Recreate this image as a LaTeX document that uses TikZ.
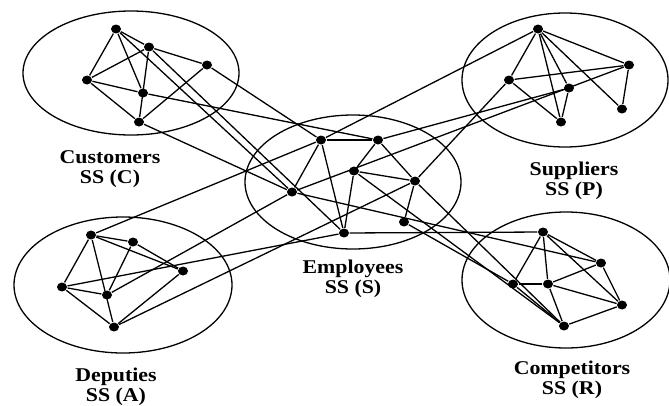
\documentclass[tikz,border=0pt]{standalone}
\usepackage{fontspec}
\usetikzlibrary{shapes.geometric}
\newfontfamily\lblfont[FakeStretch=1.12]{Liberation Serif}
\begin{document}
\begin{tikzpicture}[x=1pt,y=-1pt,line width=1.3pt,
    dot/.style={ellipse,fill=black,inner sep=0pt,minimum width=10pt,minimum height=9pt},
    lbl/.style={align=center,inner sep=0pt,anchor=north,font={\lblfont\bfseries\fontsize{19.5}{20}\selectfont}}]
\useasboundingbox (0,0) rectangle (669,405);

\draw (131,73) ellipse (108pt and 62pt);
\draw (353,182) ellipse (108pt and 67pt);
\draw (565,80) ellipse (103pt and 67pt);
\draw (123,285) ellipse (109pt and 68pt);
\draw (566,280) ellipse (104pt and 68pt);

\foreach \n/\x/\y in {c1/116/29,c2/149/47,c3/207/65,c4/87/80,c5/143/93,c6/139/122,
    e1/321/140,e2/378/140,e3/354/171,e4/415/181,e5/292/192,e6/404/222,e7/344/233,
    p1/538/29,p2/629/65,p3/509/80,p4/569/88,p5/622/109,p6/561/122,
    a1/91/235,a2/133/242,a3/183/271,a4/62/287,a5/107/295,a6/114/327,
    r1/543/232,r2/601/263,r3/513/284,r4/548/284,r5/622/305,r6/564/326}
{
    \node[dot] (\n) at (\x,\y) {};
}

\foreach \a/\b in {c1/c2,c2/c3,c1/c4,c1/c5,c2/c4,c2/c6,c4/c5,c4/c6,c3/c6,
    e1/e2,e1/e5,e1/e7,e2/e3,e2/e4,e3/e4,e3/e7,e4/e6,
    p1/p3,p1/p2,p1/p4,p1/p6,p1/p5,p3/p2,p3/p6,p4/p6,p2/p5,
    a1/a2,a1/a3,a2/a3,a1/a4,a1/a6,a2/a5,a4/a5,a4/a6,a6/a3,
    r1/r3,r1/r4,r1/r2,r1/r5,r3/r4,r4/r2,r3/r6,r4/r6,r4/r5,r6/r5,r2/r5}
{
    \draw (\a)--(\b);
}

\foreach \a/\b in {c3/e1,c5/e2,c2/e7,c1/e5,c6/e5,
    a1/e1,a5/e5,a4/e7,a6/e4,
    e1/p1,e2/p4,e5/p2,e4/p3,
    e7/r1,e5/r2,e4/r6,e3/r6,e6/r3}
{
    \draw (\a)--(\b);
}

\node[lbl] (cust) at (110,149.5) {Customers\\SS (C)};
\node[lbl] (empl) at (353,259.8) {Employees\\SS (S)};
\node[lbl] (supp) at (574,161) {Suppliers\\SS (P)};
\node[lbl] (depu) at (116,367.5) {Deputies\\SS (A)};
\node[lbl] (comp) at (572,360) {Competitors\\SS (R)};

\end{tikzpicture}
\end{document}
